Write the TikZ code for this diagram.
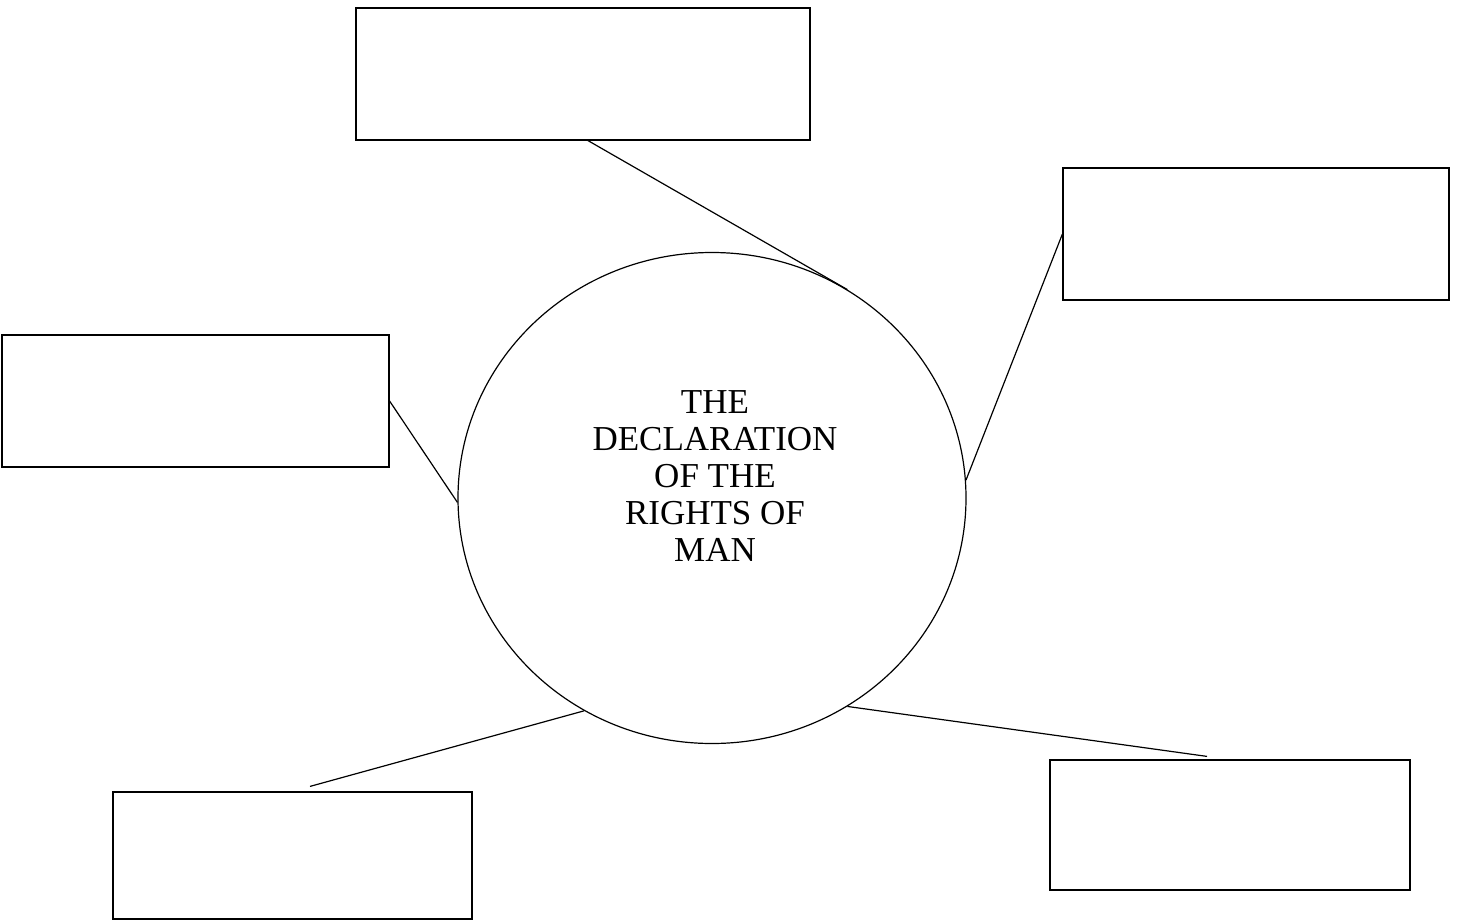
\documentclass[tikz,border=0pt]{standalone}
\usepackage{fontspec}
\setmainfont{Liberation Serif}
\usetikzlibrary{shapes.geometric}
\begin{document}
\begin{tikzpicture}[x=0.5pt,y=-0.5pt,
  blank/.style={draw,line width=0.6pt,inner sep=0pt,rectangle},
  link/.style={line width=0.6pt}]
\useasboundingbox (0,0) rectangle (1457,921);
\node[blank,minimum width=227pt,minimum height=66pt] (top) at (583,74) {};
\node[blank,minimum width=193pt,minimum height=66pt] (rt) at (1256,234) {};
\node[blank,minimum width=193.5pt,minimum height=66pt] (lt) at (195.5,401) {};
\node[blank,minimum width=179.5pt,minimum height=63.5pt] (bl) at (292.5,855.5) {};
\node[blank,minimum width=180pt,minimum height=65pt] (br) at (1230,825) {};
\node[ellipse,draw,line width=0.6pt,inner sep=0pt,minimum width=254pt,minimum height=245.5pt] (c) at (712,498) {};
\node[align=center,font=\fontsize{17.5}{18.5}\selectfont] (t) at (715,476) {THE\\DECLARATION\\OF THE\\RIGHTS OF\\MAN};
\coordinate (blend) at ([xshift=8.75pt,yshift=2.5pt]bl.north);
\coordinate (brend) at ([xshift=-11.5pt,yshift=1.5pt]br.north);
\draw[link] ([xshift=2.5pt]top.south) -- (c.57);
\draw[link] (rt.west) -- (c.4);
\draw[link] (lt.east) -- (c.181);
\draw[link] (blend) -- (c.239);
\draw[link] (brend) -- (c.303);
\end{tikzpicture}
\end{document}
